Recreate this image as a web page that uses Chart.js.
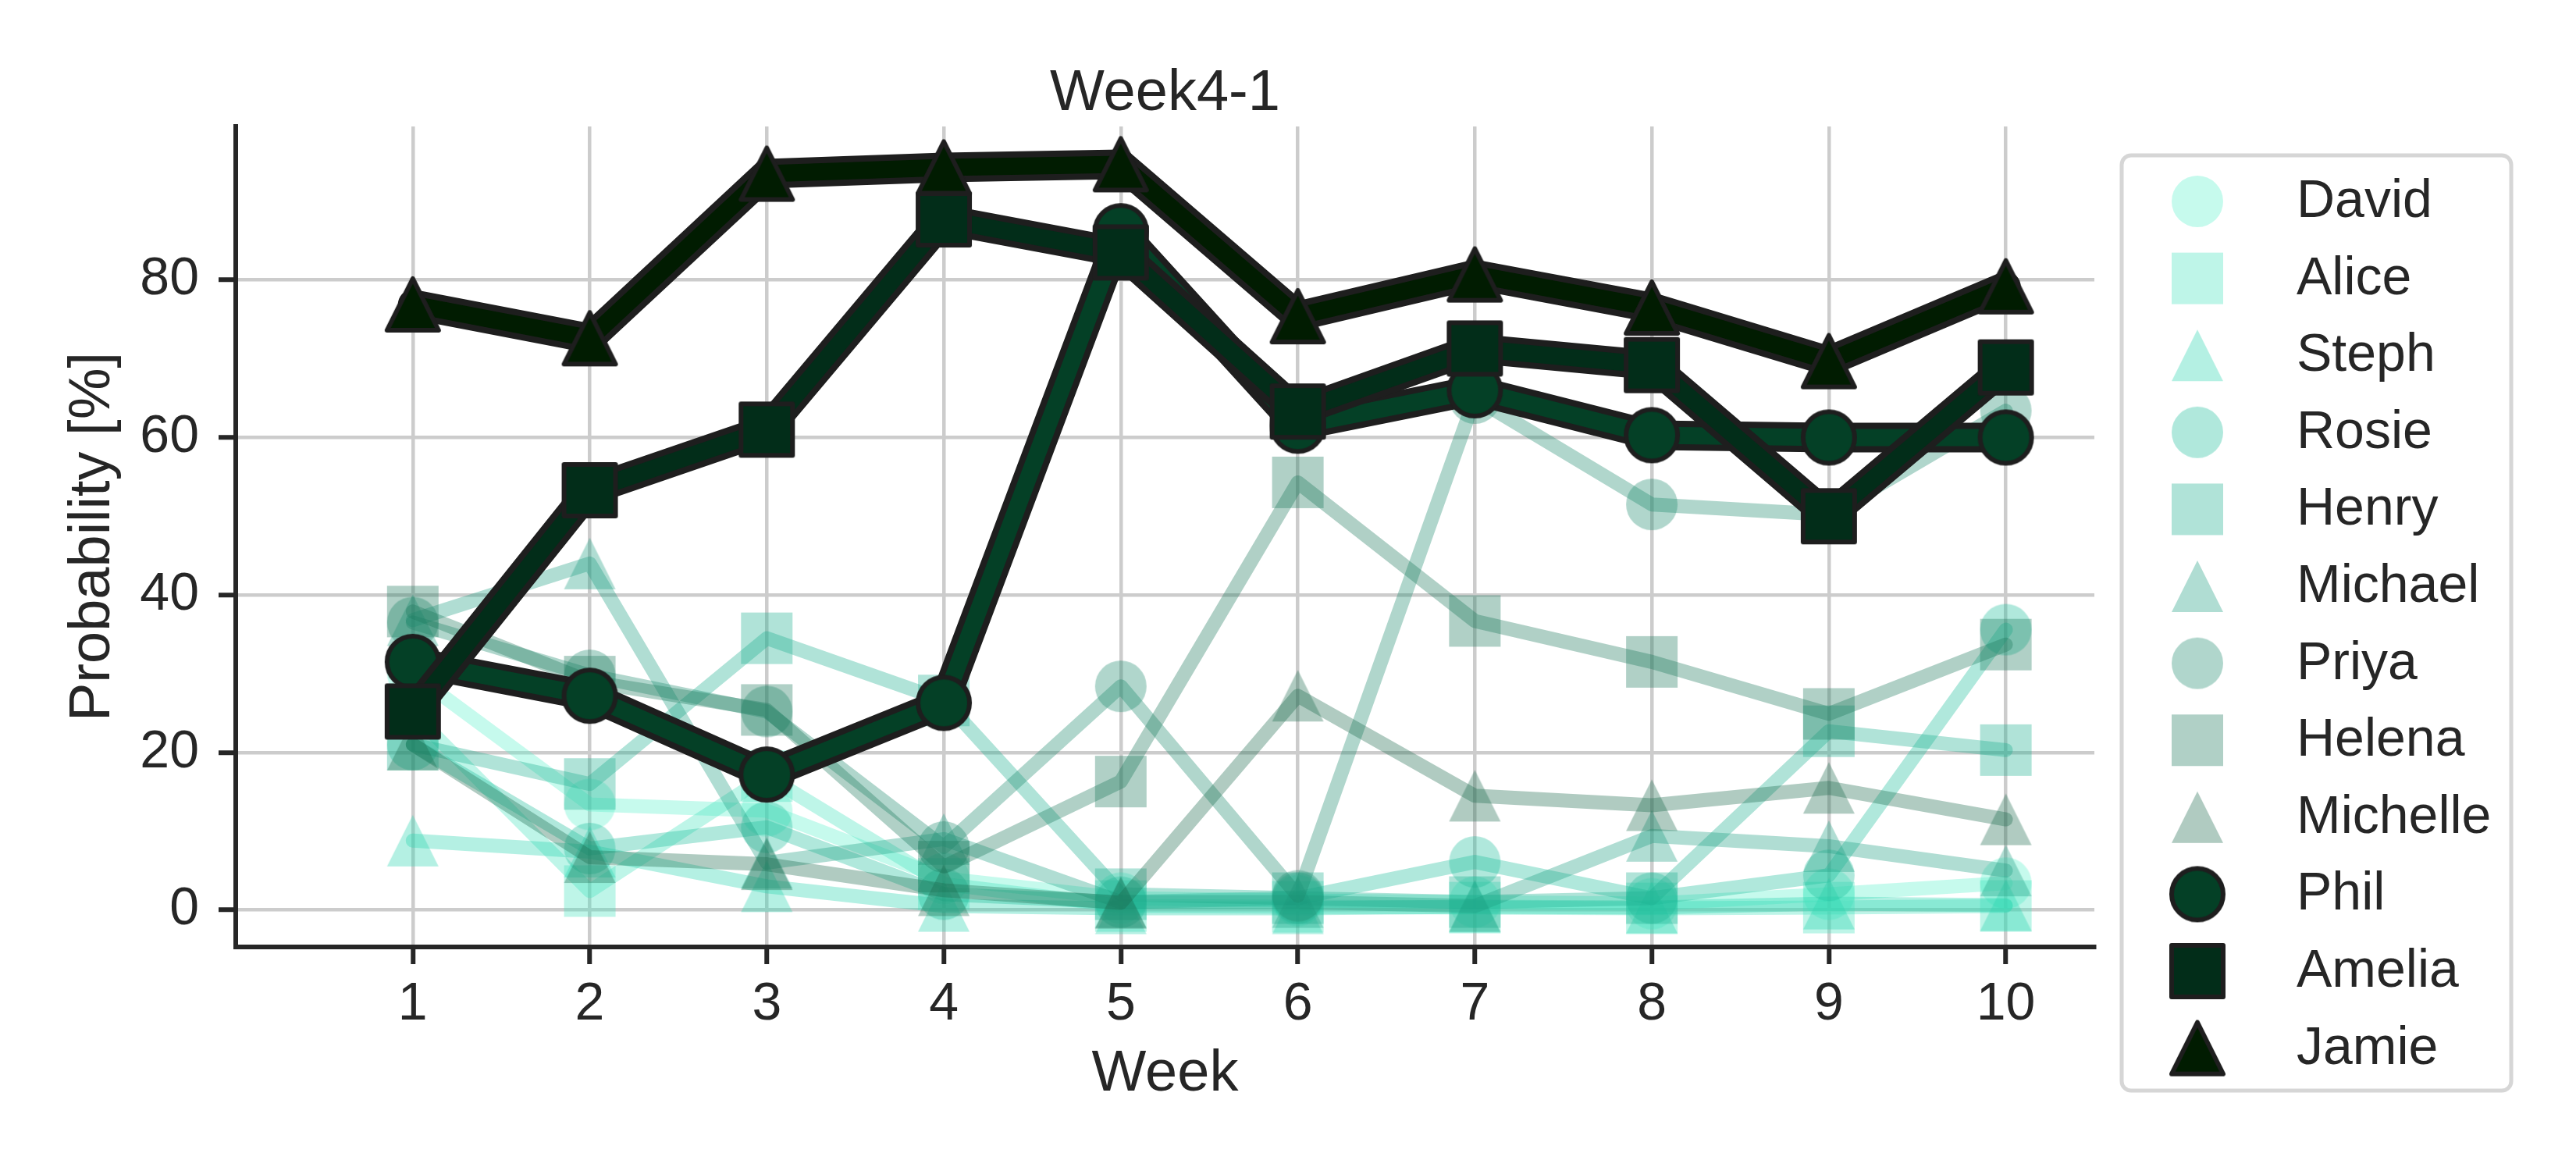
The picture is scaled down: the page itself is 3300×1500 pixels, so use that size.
<!DOCTYPE html>
<html>
<head>
<meta charset="utf-8">
<title>Week4-1</title>
<script src="https://cdn.jsdelivr.net/npm/chart.js@4.4.1/dist/chart.umd.min.js"></script>
<style>
  html, body { margin: 0; padding: 0; background: #fff; }
</style>
</head>
<body>
<canvas id="myChart" width="3300" height="1500"></canvas>
<script>
// data
const weeks = [1, 2, 3, 4, 5, 6, 7, 8, 9, 10];
const yTickValues = [0, 20, 40, 60, 80];
const names = ["David", "Alice", "Steph", "Rosie", "Henry", "Michael", "Priya", "Helena", "Michelle", "Phil", "Amelia", "Jamie"];

const david    = [30.0, 13.4, 12.6, 4.0, 1.5, 1.2, 1.0, 0.8, 2.0, 3.4];
const alice    = [25.0, 2.4, 17.0, 3.3, 0.5, 0.4, 0.3, 0.2, 0.3, 0.5];
const steph    = [8.8, 7.4, 3.0, 0.5, 0.2, 0.2, 0.4, 0.3, 0.8, 0.6];
const rosie    = [21.0, 7.8, 10.5, 2.0, 1.0, 1.5, 6.1, 1.5, 4.4, 35.6];
const henry    = [21.0, 16.0, 34.5, 26.6, 2.0, 1.5, 1.0, 1.5, 22.7, 20.3];
const michael  = [36.8, 44.0, 6.0, 9.0, 1.0, 1.0, 0.5, 9.4, 8.1, 5.0];
const priya    = [36.5, 29.8, 25.2, 8.0, 28.4, 1.8, 65.0, 51.5, 50.2, 63.4];
const helena   = [37.9, 29.0, 25.4, 5.5, 16.3, 54.3, 36.7, 31.5, 24.9, 33.7];
const michelle = [21.0, 6.7, 5.8, 2.5, 0.9, 27.2, 14.5, 13.3, 15.5, 11.5];
const phil     = [31.5, 27.2, 17.2, 26.3, 86.2, 61.5, 66.0, 60.3, 60.0, 60.0];
const amelia   = [25.2, 53.3, 61.0, 87.7, 83.5, 63.3, 71.3, 69.2, 50.0, 68.9];
const jamie    = [76.9, 72.6, 93.5, 94.3, 94.7, 75.4, 80.7, 76.5, 69.7, 79.2];

const series = [david, alice, steph, rosie, henry, michael, priya, helena, michelle, phil, amelia, jamie];

// styles
const shapes = ["circle", "square", "triangle", "circle", "square", "triangle",
                "circle", "square", "triangle", "circle", "square", "triangle"];
const lightRGB = ["92,241,204", "69,226,189", "41,212,175", "29,189,155", "29,175,144",
                  "29,158,129", "29,138,109", "29,121,92", "29,106,78"];
const darkColors = ["#044026", "#022d19", "#011c01"];
const EDGE = "#1e1e1e";
const TEXT = "#262626";
const FONT = '"Liberation Sans", Arial, sans-serif';

function makeMarker(shape, fill, edge) {
  const size = 66, pad = 8;
  const c = document.createElement("canvas");
  c.width = c.height = size + 2 * pad;
  const g = c.getContext("2d");
  const m = c.width / 2, r = size / 2;
  g.beginPath();
  if (shape === "circle") g.arc(m, m, r, 0, Math.PI * 2);
  else if (shape === "square") g.rect(m - r, m - r, size, size);
  else { g.moveTo(m, m - r); g.lineTo(m + r, m + r); g.lineTo(m - r, m + r); g.closePath(); }
  g.fillStyle = fill;
  g.fill();
  if (edge) {
    g.lineWidth = 6;
    g.strokeStyle = edge;
    g.lineJoin = "round";
    g.stroke();
  }
  return c;
}

const datasets = names.map((name, i) => {
  const dark = i >= 9;
  const color = dark ? darkColors[i - 9] : "rgba(" + lightRGB[i] + ",0.35)";
  return {
    label: name,
    data: weeks.map((w, j) => ({ x: w, y: series[i][j] })),
    borderColor: color,
    backgroundColor: color,
    borderWidth: dark ? 22 : 18,
    borderJoinStyle: "round",
    borderCapStyle: "round",
    tension: 0,
    fill: false,
    pointStyle: makeMarker(shapes[i], color, dark ? EDGE : null),
    pointRadius: 33,
    outline: dark,
    order: names.length - i,
    clip: false
  };
});

// black stroke under the dark lines
const outlinePlugin = {
  id: "outline",
  beforeDatasetDraw(chart, args) {
    const ds = chart.data.datasets[args.index];
    if (!ds.outline) return;
    const ctx = chart.ctx;
    ctx.save();
    ctx.beginPath();
    args.meta.data.forEach((p, k) => k ? ctx.lineTo(p.x, p.y) : ctx.moveTo(p.x, p.y));
    ctx.lineWidth = 38;
    ctx.strokeStyle = EDGE;
    ctx.lineJoin = "round";
    ctx.lineCap = "round";
    ctx.stroke();
    ctx.restore();
  }
};

// framed legend to the right of the axes
const sideLegend = {
  id: "sideLegend",
  afterDraw(chart) {
    const ctx = chart.ctx;
    ctx.save();
    ctx.beginPath();
    ctx.roundRect(2718, 199, 499, 1198, 12);
    ctx.fillStyle = "rgba(255,255,255,0.8)";
    ctx.fill();
    ctx.lineWidth = 5;
    ctx.strokeStyle = "#d6d6d6";
    ctx.stroke();
    ctx.font = "68px " + FONT;
    ctx.fillStyle = TEXT;
    ctx.textBaseline = "alphabetic";
    ctx.textAlign = "left";
    chart.data.datasets.forEach((ds, i) => {
      const y = 258 + i * 98.6;
      const img = ds.pointStyle;
      ctx.drawImage(img, 2815 - img.width / 2, y - img.height / 2);
      ctx.fillText(ds.label, 2942, y + 20);
    });
    ctx.restore();
  }
};

new Chart("myChart", {
  type: "line",
  data: { datasets: datasets },
  plugins: [outlinePlugin, sideLegend],
  options: {
    responsive: false,
    devicePixelRatio: 1,
    animation: false,
    layout: { padding: { left: 0, top: 0, right: 617, bottom: 0 } },
    plugins: {
      legend: { display: false },
      tooltip: { enabled: false },
      title: {
        display: true,
        text: "Week4-1",
        fullSize: false,
        color: TEXT,
        font: { family: FONT, size: 74, weight: "normal", lineHeight: 1 },
        padding: { top: 84, bottom: 4 }
      }
    },
    scales: {
      x: {
        type: "linear",
        min: 0,
        max: 10.5,
        afterBuildTicks: s => { s.ticks = weeks.map(v => ({ value: v })); },
        afterFit: s => { s.height = 287; },
        grid: { color: "#cccccc", lineWidth: 4.5, tickColor: TEXT, tickWidth: 6, tickLength: 22 },
        border: { display: true, color: TEXT, width: 6 },
        ticks: { color: TEXT, font: { family: FONT, size: 68 }, padding: 11, maxRotation: 0 },
        title: {
          display: true,
          text: "Week",
          color: TEXT,
          font: { family: FONT, size: 74, lineHeight: 1 },
          padding: { top: 0, bottom: 86 }
        }
      },
      y: {
        min: -4.7,
        max: 99.5,
        afterBuildTicks: s => { s.ticks = yTickValues.map(v => ({ value: v })); },
        afterFit: s => { s.width = 302; },
        grid: { color: "#cccccc", lineWidth: 4.5, tickColor: TEXT, tickWidth: 6, tickLength: 22 },
        border: { display: true, color: TEXT, width: 6 },
        ticks: { color: TEXT, font: { family: FONT, size: 68 }, padding: 25 },
        title: {
          display: true,
          text: "Probability [%]",
          color: TEXT,
          font: { family: FONT, size: 74, lineHeight: 1 },
          padding: { top: 83, bottom: 0 }
        }
      }
    }
  }
});
</script>
</body>
</html>
